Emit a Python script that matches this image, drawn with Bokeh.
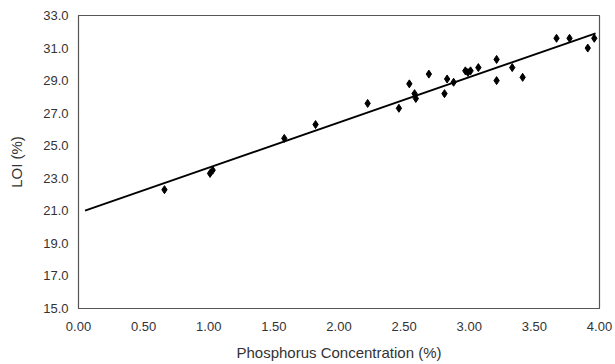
from bokeh.plotting import figure
from bokeh.models import Range1d, FixedTicker, NumeralTickFormatter, ColumnDataSource
from bokeh.embed import file_html
from bokeh.resources import INLINE

# Data
phosphorus = [0.66, 1.01, 1.03, 1.58, 1.82, 2.22, 2.46, 2.54, 2.58, 2.59,
              2.69, 2.81, 2.83, 2.88, 2.97, 2.99, 3.01, 3.07, 3.21, 3.21,
              3.33, 3.41, 3.67, 3.77, 3.91, 3.96]
loi = [22.3, 23.3, 23.5, 25.45, 26.3, 27.6, 27.3, 28.8, 28.2, 27.9,
       29.4, 28.2, 29.1, 28.9, 29.6, 29.5, 29.6, 29.8, 30.3, 29.0,
       29.8, 29.2, 31.6, 31.6, 31.0, 31.6]

# Trend line (linear fit as drawn)
trend_slope = 2.78
trend_intercept = 20.87
trend_x = [0.05, 3.97]

x_ticks = [0.0, 0.5, 1.0, 1.5, 2.0, 2.5, 3.0, 3.5, 4.0]
y_ticks = [15.0, 17.0, 19.0, 21.0, 23.0, 25.0, 27.0, 29.0, 31.0, 33.0]

trend_y = [trend_intercept + trend_slope * x for x in trend_x]

p = figure(width=615, height=364, output_backend="svg", toolbar_location=None,
           x_range=Range1d(0, 4), y_range=Range1d(15, 33),
           min_border_left=78, min_border_right=16, min_border_top=15, min_border_bottom=56)

p.line(trend_x, trend_y, line_color="black", line_width=1.8)
src = ColumnDataSource(dict(x=phosphorus, y=loi))
p.scatter("x", "y", source=src, marker="diamond", size=8, fill_color="black", line_color="black")

p.xgrid.visible = False
p.ygrid.visible = False
p.background_fill_color = "white"
p.border_fill_color = "white"
p.outline_line_color = "#555555"
p.outline_line_width = 1.2

font = "Liberation Sans"
for ax in (p.xaxis[0], p.yaxis[0]):
    ax.major_tick_in = 0
    ax.major_tick_out = 0
    ax.minor_tick_in = 0
    ax.minor_tick_out = 0
    ax.axis_line_color = "#555555"
    ax.major_label_text_font = font
    ax.major_label_text_font_size = "13px"
    ax.major_label_text_color = "#333333"
    ax.axis_label_text_font = font
    ax.axis_label_text_font_size = "15px"
    ax.axis_label_text_font_style = "normal"
    ax.axis_label_text_color = "#333333"

p.xaxis.ticker = FixedTicker(ticks=x_ticks)
p.yaxis.ticker = FixedTicker(ticks=y_ticks)
p.xaxis.formatter = NumeralTickFormatter(format="0.00")
p.yaxis.formatter = NumeralTickFormatter(format="0.0")
p.xaxis.axis_label = "Phosphorus Concentration (%)"
p.yaxis.axis_label = "LOI (%)"
p.xaxis.major_label_standoff = 13
p.yaxis.major_label_standoff = 10
p.xaxis.axis_label_standoff = 10
p.yaxis.axis_label_standoff = 15

open("out.html", "w").write(file_html(p, INLINE))
